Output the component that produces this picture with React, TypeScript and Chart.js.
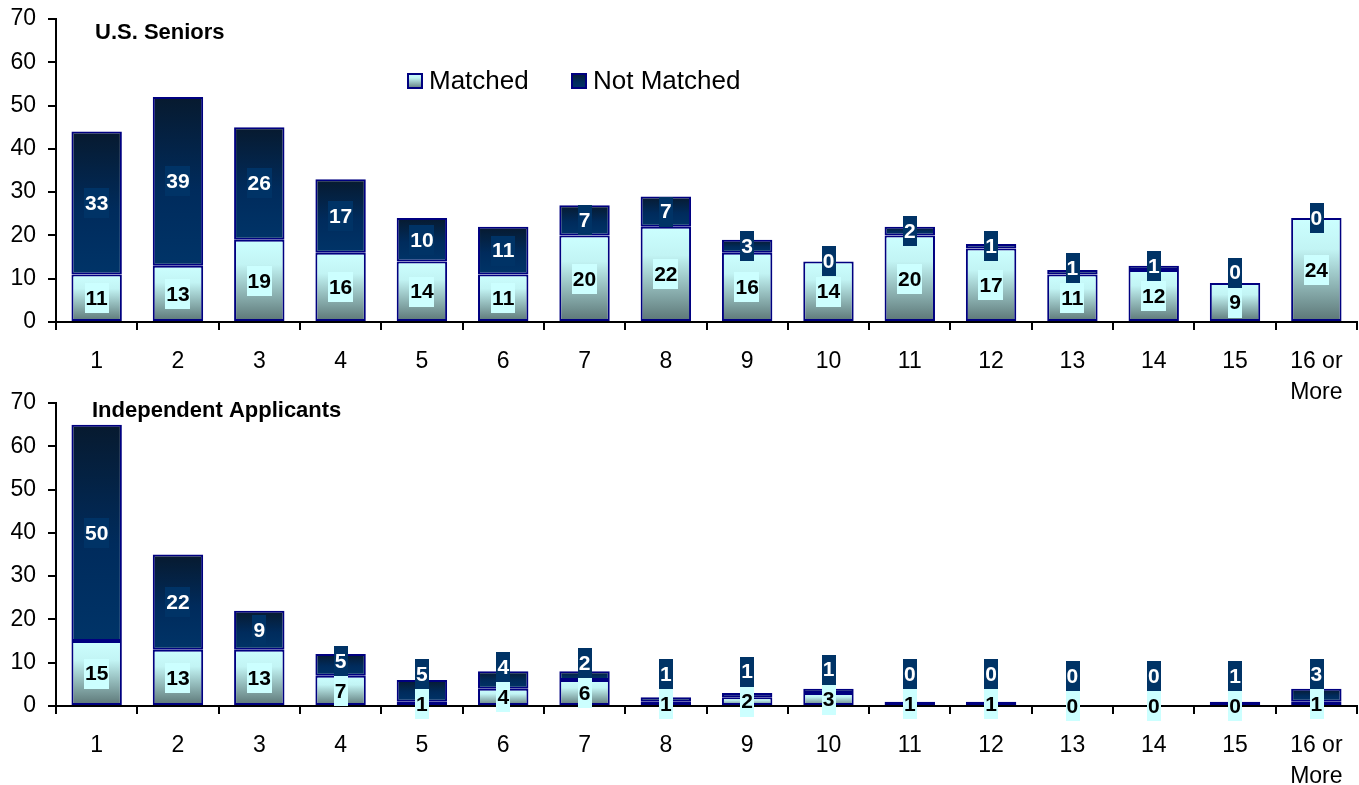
import React, { useEffect, useRef } from 'react';
import { Chart, registerables } from 'chart.js';

Chart.register(...registerables);

// ---------- data ----------
const categories: (string | string[])[] = [
  '1', '2', '3', '4', '5', '6', '7', '8', '9', '10', '11', '12', '13', '14', '15', ['16 or', 'More'],
];
const seniorsMatched = [11, 13, 19, 16, 14, 11, 20, 22, 16, 14, 20, 17, 11, 12, 9, 24];
const seniorsNotMatched = [33, 39, 26, 17, 10, 11, 7, 7, 3, 0, 2, 1, 1, 1, 0, 0];
const independentMatched = [15, 13, 13, 7, 1, 4, 6, 1, 2, 3, 1, 1, 0, 0, 0, 1];
const independentNotMatched = [50, 22, 9, 5, 5, 4, 2, 1, 1, 1, 0, 0, 0, 0, 1, 3];
const seriesNames = ['Matched', 'Not Matched'];
const panelTitles = ['U.S. Seniors', 'Independent Applicants'];
const yMin = 0;
const yMax = 70;
const yStep = 10;

// ---------- styles ----------
const FONT = '"Liberation Sans", Arial, Helvetica, sans-serif';
const BORDER = '#000080';
const NM_BOX = '#003366';
const M_BOX = '#ccffff';

function matchedGradient(ctx: CanvasRenderingContext2D, top: number, bottom: number) {
  const g = ctx.createLinearGradient(0, top, 0, bottom);
  g.addColorStop(0, '#ccffff');
  g.addColorStop(0.3, '#c2f4f4');
  g.addColorStop(1, '#5a7474');
  return g;
}
function notMatchedGradient(ctx: CanvasRenderingContext2D, top: number, bottom: number) {
  const g = ctx.createLinearGradient(0, top, 0, bottom);
  g.addColorStop(0, '#071a2f');
  g.addColorStop(0.55, '#002b5c');
  g.addColorStop(1, '#003468');
  return g;
}

type PanelProps = {
  title: string;
  matched: number[];
  notMatched: number[];
  top: number;
  titleX: number;
  titleY: number;
  showLegend: boolean;
};

const W = 1359;
const H = 400;

function Panel({ title, matched, notMatched, top, titleX, titleY, showLegend }: PanelProps) {
  const ref = useRef<HTMLCanvasElement | null>(null);

  useEffect(() => {
    const canvas = ref.current;
    if (!canvas) return;

    const segPix = (chart: any, ds: number, i: number) => {
      const y = chart.scales.y;
      if (ds === 0) return { t: y.getPixelForValue(matched[i]), b: y.getPixelForValue(0) };
      return {
        t: y.getPixelForValue(matched[i] + notMatched[i]),
        b: y.getPixelForValue(matched[i]),
      };
    };

    const bg = (ds: number) => (c: any) => {
      const chart = c.chart;
      if (!chart.chartArea || c.type !== 'data' || !chart.scales?.y) return ds === 0 ? '#aadddd' : '#002a5a';
      const { t, b } = segPix(chart, ds, c.dataIndex);
      if (!(b > t)) return ds === 0 ? '#aadddd' : '#002a5a';
      return ds === 0 ? matchedGradient(chart.ctx, t, b) : notMatchedGradient(chart.ctx, t, b);
    };

    const labelsPlugin = {
      id: 'segLabels',
      afterDatasetsDraw(chart: any) {
        const ctx = chart.ctx as CanvasRenderingContext2D;
        const metaM = chart.getDatasetMeta(0);
        ctx.save();
        ctx.font = `bold 21px ${FONT}`;
        ctx.textAlign = 'center';
        ctx.textBaseline = 'middle';
        const boxH = 30;
        for (let i = 0; i < matched.length; i++) {
          const x = metaM.data[i].x;
          const m = segPix(chart, 0, i);
          const n = segPix(chart, 1, i);
          const my = (m.t + m.b) / 2;
          const ny = Math.min((n.t + n.b) / 2, my - 30);
          const draw = (txt: string, y: number, box: string, col: string) => {
            const w = ctx.measureText(txt).width + 2;
            ctx.fillStyle = box;
            ctx.fillRect(Math.round(x - w / 2), Math.round(y - boxH / 2), Math.round(w), boxH);
            ctx.fillStyle = col;
            ctx.fillText(txt, x, y + 1);
          };
          draw(String(notMatched[i]), ny, NM_BOX, '#ffffff');
          draw(String(matched[i]), my, M_BOX, '#000000');
        }
        ctx.restore();
      },
    };

    const decorPlugin = {
      id: 'decor',
      afterDraw(chart: any) {
        const ctx = chart.ctx as CanvasRenderingContext2D;
        ctx.save();
        ctx.fillStyle = '#000';
        ctx.font = `bold 22px ${FONT}`;
        ctx.textAlign = 'left';
        ctx.textBaseline = 'middle';
        ctx.fillText(title, titleX, titleY);
        if (showLegend) {
          ctx.font = `26px ${FONT}`;
          const items = [
            { x: 407, name: seriesNames[0], grad: matchedGradient },
            { x: 571, name: seriesNames[1], grad: notMatchedGradient },
          ];
          const by = 73;
          const bs = 16;
          for (const it of items) {
            ctx.fillStyle = it.grad(ctx, by, by + bs);
            ctx.fillRect(it.x, by, bs, bs);
            ctx.strokeStyle = BORDER;
            ctx.lineWidth = 2;
            ctx.strokeRect(it.x + 1, by + 1, bs - 2, bs - 2);
            ctx.fillStyle = '#000';
            ctx.fillText(it.name, it.x + bs + 6, by + bs / 2 + 1);
          }
        }
        ctx.restore();
      },
    };

    const chart = new Chart(canvas, {
      type: 'bar',
      data: {
        labels: categories as any,
        datasets: [
          {
            label: seriesNames[0],
            data: matched,
            backgroundColor: bg(0) as any,
            borderColor: BORDER,
            borderWidth: 2,
            borderSkipped: false,
            barPercentage: 0.62,
            categoryPercentage: 1,
          },
          {
            label: seriesNames[1],
            data: notMatched,
            backgroundColor: bg(1) as any,
            borderColor: BORDER,
            borderWidth: 2,
            borderSkipped: false,
            barPercentage: 0.62,
            categoryPercentage: 1,
          },
        ],
      },
      options: {
        responsive: false,
        animation: false,
        events: [],
        layout: { padding: { top: 19, right: 2, left: 0, bottom: 0 } },
        plugins: { legend: { display: false }, tooltip: { enabled: false }, title: { display: false } },
        scales: {
          x: {
            stacked: true,
            afterFit: (s: any) => { s.height = 78; },
            grid: { offset: true, drawOnChartArea: false, drawTicks: true, tickLength: 8, color: '#000', lineWidth: 2 },
            border: { color: '#000', width: 2 },
            ticks: {
              color: '#000',
              font: { family: FONT, size: 23, lineHeight: 1.35 },
              padding: 16,
              maxRotation: 0,
              autoSkip: false,
            },
          },
          y: {
            stacked: true,
            min: yMin,
            max: yMax,
            afterFit: (s: any) => {
              s.width = 56;
              s.paddingTop = 0;
              s.paddingBottom = 0;
            },
            grid: { drawOnChartArea: false, drawTicks: true, tickLength: 8, color: '#000', lineWidth: 2 },
            border: { color: '#000', width: 2 },
            ticks: {
              stepSize: yStep,
              color: '#000',
              font: { family: FONT, size: 23 },
              padding: 12,
            },
          },
        },
      },
      plugins: [labelsPlugin, decorPlugin],
    });
    return () => chart.destroy();
  }, [title, matched, notMatched, titleX, titleY, showLegend]);

  return (
    <canvas
      ref={ref}
      width={W}
      height={H}
      style={{ position: 'absolute', left: 0, top, width: W, height: H, display: 'block' }}
    />
  );
}

export default function App() {
  return (
    <div style={{ position: 'absolute', left: 0, top: 0, width: W, height: 785, background: '#fff' }}>
      <Panel
        title={panelTitles[0]}
        matched={seniorsMatched}
        notMatched={seniorsNotMatched}
        top={0}
        titleX={95}
        titleY={33}
        showLegend={true}
      />
      <Panel
        title={panelTitles[1]}
        matched={independentMatched}
        notMatched={independentNotMatched}
        top={384}
        titleX={92}
        titleY={27}
        showLegend={false}
      />
    </div>
  );
}
